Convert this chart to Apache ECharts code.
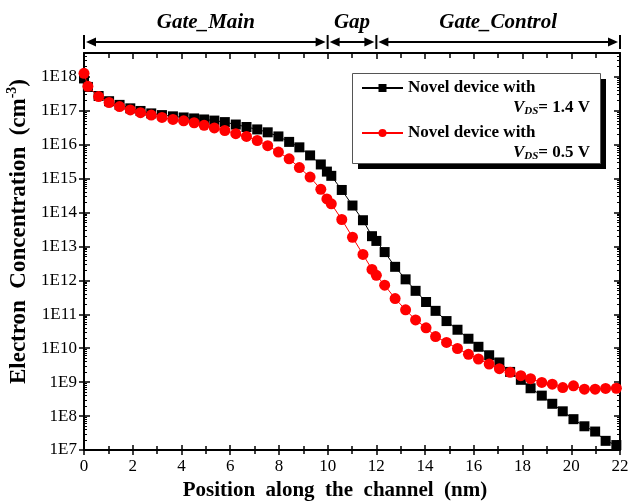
<!DOCTYPE html>
<html>
<head>
<meta charset="utf-8">
<script src="https://cdn.jsdelivr.net/npm/echarts@6/dist/echarts.min.js"></script>
<style>
  html, body { margin: 0; padding: 0; background: #fff; }
  #chart { width: 628px; height: 503px; }
</style>
</head>
<body>
<div id="chart"></div>
<script>
// Mesh positions along the channel (nm)
const positionNm = [
  0, 0.16, 0.6, 1.03, 1.46, 1.9, 2.32, 2.76, 3.2, 3.65, 4.09, 4.52, 4.93, 5.35, 5.78,
  6.23, 6.67, 7.11, 7.54, 7.98, 8.42, 8.84, 9.28, 9.72, 9.97, 10.15, 10.58, 11.02,
  11.45, 11.82, 12.0, 12.34, 12.77, 13.2, 13.61, 14.04, 14.43, 14.88, 15.33, 15.78,
  16.19, 16.63, 17.05, 17.49, 17.93, 18.33, 18.79, 19.22, 19.65, 20.09, 20.54,
  20.98, 21.41, 21.85
];

// Electron concentration (cm^-3), V_DS = 1.4 V
const electronConc14V = [
  8.9e17, 5.0e17, 2.7e17, 1.9e17, 1.48e17, 1.17e17, 9.8e16, 8.3e16, 7.4e16, 6.8e16,
  6.3e16, 5.9e16, 5.5e16, 5.1e16, 4.6e16, 3.9e16, 3.3e16, 2.8e16, 2.3e16, 1.74e16,
  1.2e16, 8.3e15, 4.8e15, 2.6e15, 1.6e15, 1.2e15, 4.6e14, 1.6e14, 5.9e13, 2.0e13,
  1.45e13, 6.8e12, 2.5e12, 1.07e12, 4.9e11, 2.3e11, 1.26e11, 6.3e10, 3.5e10, 1.9e10,
  1.1e10, 6.2e9, 3.8e9, 2.0e9, 1.17e9, 6.6e8, 4.0e8, 2.3e8, 1.38e8, 8.1e7, 5.0e7,
  3.5e7, 1.86e7, 1.4e7
];

// Electron concentration (cm^-3), V_DS = 0.5 V
const electronConc05V = [
  1.26e18, 5.2e17, 2.6e17, 1.74e17, 1.32e17, 1.05e17, 8.7e16, 7.4e16, 6.3e16, 5.5e16,
  5.0e16, 4.4e16, 3.7e16, 3.1e16, 2.6e16, 2.1e16, 1.74e16, 1.32e16, 9.3e15, 6.0e15,
  3.8e15, 2.1e15, 1.1e15, 4.8e14, 2.5e14, 1.8e14, 6.2e13, 1.86e13, 5.8e12, 2.1e12,
  1.4e12, 7.2e11, 2.9e11, 1.35e11, 6.8e10, 4.0e10, 2.2e10, 1.48e10, 9.8e9, 6.6e9,
  4.8e9, 3.4e9, 2.5e9, 1.95e9, 1.55e9, 1.26e9, 9.8e8, 8.7e8, 6.9e8, 7.8e8, 6.2e8,
  6.2e8, 6.5e8, 6.6e8
];

// Gate regions along the channel
const regionEdgesNm = [0, 10, 12, 22];
const regionNames = ['Gate_Main', 'Gap', 'Gate_Control'];

// Legend entries
const seriesNames = ['VDS 1.4 V', 'VDS 0.5 V'];
const legendVds = ['1.4 V', '0.5 V'];

// Axis ranges
const xMin = 0, xMax = 22, xStep = 2;
const yMin = 1e7, yMax = 5e18;

const FONT = '"Liberation Serif", "Times New Roman", serif';

// Log-spaced minor tick values (2..9 x 10^n)
const minorLogTicks = [];
for (let d = 7; d <= 18; d++) {
  for (let m = 2; m <= 9; m++) {
    const v = m * Math.pow(10, d);
    if (v < yMax) minorLogTicks.push(v);
  }
}

const toPairs = arr => positionNm.map((x, i) => [x, arr[i]]);

const chart = echarts.init(document.getElementById('chart'), null, { renderer: 'canvas' });

const baseY = {
  type: 'log', logBase: 10, min: yMin, max: yMax, interval: 1,
  gridIndex: 0, splitLine: { show: false }
};
const baseX = {
  type: 'value', min: xMin, max: xMax, interval: xStep,
  gridIndex: 0, splitLine: { show: false }
};

// Legend geometry
const legendLeft = 352, legendTop = 73;
const legendPad = [5, 10, 20, 9];
const legendIconW = 41, legendTextW = 183, legendRowGap = 25, legendRowH = 20;
const legendBoxW = legendPad[3] + legendIconW + 5 + legendTextW + legendPad[1];
const legendBoxH = legendPad[0] + 2 * legendRowH + legendRowGap + legendPad[2];

chart.setOption({
  animation: false,
  backgroundColor: '#fff',
  grid: { left: 84, right: 8, top: 53, bottom: 53, containLabel: false, outerBoundsMode: 'none' },
  xAxis: [
    Object.assign({}, baseX, {
      position: 'bottom',
      name: 'Position  along  the  channel  (nm)',
      nameLocation: 'middle',
      nameGap: 30,
      nameTextStyle: { fontFamily: FONT, fontSize: 21, fontWeight: 'bold', color: '#000', padding: [0, 34, 0, 0] },
      axisLine: { show: true, lineStyle: { color: '#000', width: 2 } },
      axisTick: { show: true, inside: false, length: 5, lineStyle: { color: '#000', width: 1.5 } },
      minorTick: { show: true, splitNumber: 2, length: 4, lineStyle: { color: '#000', width: 1.5 } },
      axisLabel: { fontFamily: FONT, fontSize: 17, color: '#000', margin: 8 }
    }),
    Object.assign({}, baseX, {
      position: 'bottom',
      axisLine: { show: false },
      axisTick: { show: true, inside: true, length: 5, lineStyle: { color: '#000', width: 1.5 } },
      minorTick: { show: true, splitNumber: 2, length: 4, lineStyle: { color: '#000', width: 1.5 } },
      axisLabel: { show: false }
    }),
    Object.assign({}, baseX, {
      position: 'top',
      axisLine: { show: true, lineStyle: { color: '#000', width: 2 } },
      axisTick: { show: true, inside: true, length: 6, lineStyle: { color: '#000', width: 1.5 } },
      minorTick: { show: true, splitNumber: 2, length: 5, lineStyle: { color: '#000', width: 1.5 } },
      axisLabel: { show: false }
    })
  ],
  yAxis: [
    Object.assign({}, baseY, {
      position: 'left',
      name: '{t|Electron  Concentration  (cm}{sup|-3}{t|)}',
      nameLocation: 'middle',
      nameRotate: 90,
      nameGap: 49,
      nameTextStyle: {
        color: '#000',
        padding: [0, 0, 0, 40],
        rich: {
          t: { fontFamily: FONT, fontSize: 23, fontWeight: 'bold', color: '#000' },
          sup: { fontFamily: FONT, fontSize: 14, fontWeight: 'bold', color: '#000', verticalAlign: 'top', lineHeight: 26 }
        }
      },
      axisLine: { show: true, lineStyle: { color: '#000', width: 2 } },
      axisTick: { show: true, inside: false, length: 5, lineStyle: { color: '#000', width: 1.5 } },
      axisLabel: {
        fontFamily: FONT, fontSize: 17, color: '#000', margin: 7,
        showMaxLabel: false,
        formatter: v => {
          const e = Math.log10(v);
          return Math.abs(e - Math.round(e)) < 1e-6 ? '1E' + Math.round(e) : '';
        }
      }
    }),
    Object.assign({}, baseY, {
      position: 'left',
      axisLine: { show: false },
      axisTick: { show: true, inside: true, length: 6, lineStyle: { color: '#000', width: 1.5 } },
      axisLabel: { show: false }
    }),
    Object.assign({}, baseY, {
      position: 'left',
      axisLine: { show: false },
      axisTick: { show: true, inside: true, length: 3, customValues: minorLogTicks, lineStyle: { color: '#000', width: 1 } },
      axisLabel: { show: false }
    }),
    Object.assign({}, baseY, {
      position: 'right',
      axisLine: { show: true, lineStyle: { color: '#000', width: 2 } },
      axisTick: { show: true, inside: true, length: 6, lineStyle: { color: '#000', width: 1.5 } },
      axisLabel: { show: false }
    }),
    Object.assign({}, baseY, {
      position: 'right',
      axisLine: { show: false },
      axisTick: { show: true, inside: true, length: 3, customValues: minorLogTicks, lineStyle: { color: '#000', width: 1 } },
      axisLabel: { show: false }
    })
  ],
  legend: {
    z: 10,
    orient: 'vertical',
    left: legendLeft,
    top: legendTop,
    padding: legendPad,
    itemGap: legendRowGap,
    itemWidth: legendIconW,
    itemHeight: 10,
    data: seriesNames,
    formatter: () => 'Novel device with',
    textStyle: {
      width: legendTextW,
      fontFamily: FONT, fontSize: 17, fontWeight: 'bold', color: '#000', lineHeight: legendRowH
    }
  },
  series: [
    {
      name: seriesNames[0],
      type: 'line',
      xAxisIndex: 0, yAxisIndex: 0,
      data: toPairs(electronConc14V),
      symbol: 'rect',
      symbolSize: 10,
      showAllSymbol: true,
      lineStyle: { color: '#000', width: 1 },
      itemStyle: { color: '#000' },
      z: 2
    },
    {
      name: seriesNames[1],
      type: 'line',
      xAxisIndex: 0, yAxisIndex: 0,
      data: toPairs(electronConc05V),
      symbol: 'circle',
      symbolSize: 11,
      showAllSymbol: true,
      lineStyle: { color: '#ff0000', width: 1 },
      itemStyle: { color: '#ff0000' },
      z: 3
    }
  ]
});

// Region brackets above the plot (|<-- name -->|), legend frame and the V_DS lines of the legend
function drawOverlays() {
  const yLine = 42;
  const px = regionEdgesNm.map(v => chart.convertToPixel({ xAxisIndex: 0 }, v));
  const els = [];
  px.forEach(x => {
    els.push({ type: 'line', shape: { x1: x, y1: 35, x2: x, y2: 49 }, style: { stroke: '#000', lineWidth: 2 } });
  });
  for (let i = 0; i < regionNames.length; i++) {
    const a = px[i] + 2, b = px[i + 1] - 2;
    els.push({ type: 'line', shape: { x1: a + 4, y1: yLine, x2: b - 4, y2: yLine }, style: { stroke: '#000', lineWidth: 2 } });
    els.push({ type: 'polygon', shape: { points: [[a, yLine], [a + 10, yLine - 4.5], [a + 10, yLine + 4.5]] }, style: { fill: '#000' } });
    els.push({ type: 'polygon', shape: { points: [[b, yLine], [b - 10, yLine - 4.5], [b - 10, yLine + 4.5]] }, style: { fill: '#000' } });
    els.push({
      type: 'text', x: (px[i] + px[i + 1]) / 2, y: 23,
      style: { text: regionNames[i], font: 'italic bold 21px ' + FONT, fill: '#000', align: 'center', verticalAlign: 'middle' }
    });
  }

  // Legend frame with a solid drop shadow
  els.push({
    type: 'rect', z: 5,
    shape: { x: legendLeft + 6, y: legendTop + 6, width: legendBoxW, height: legendBoxH },
    style: { fill: '#000' }
  });
  els.push({
    type: 'rect', z: 6,
    shape: { x: legendLeft + 0.5, y: legendTop + 0.5, width: legendBoxW, height: legendBoxH },
    style: { fill: '#fff', stroke: '#555', lineWidth: 1 }
  });

  // Second line of each legend entry, right-aligned under the name
  const textRight = legendLeft + legendPad[3] + legendIconW + 5 + legendTextW;
  legendVds.forEach((v, k) => {
    const rowCenter = legendTop + legendPad[0] + legendRowH / 2 + k * (legendRowH + legendRowGap);
    els.push({
      type: 'text', z: 100,
      x: textRight, y: rowCenter + 20,
      style: {
        text: '{v|V}{s|DS}{b|= ' + v + '}',
        align: 'right', verticalAlign: 'middle',
        rich: {
          v: { fontFamily: FONT, fontSize: 17, fontStyle: 'italic', fontWeight: 'bold', fill: '#000' },
          s: { fontFamily: FONT, fontSize: 11, fontStyle: 'italic', fontWeight: 'bold', fill: '#000', verticalAlign: 'bottom' },
          b: { fontFamily: FONT, fontSize: 17, fontWeight: 'bold', fill: '#000' }
        }
      }
    });
  });
  chart.setOption({ graphic: els });
}
drawOverlays();
</script>
</body>
</html>
